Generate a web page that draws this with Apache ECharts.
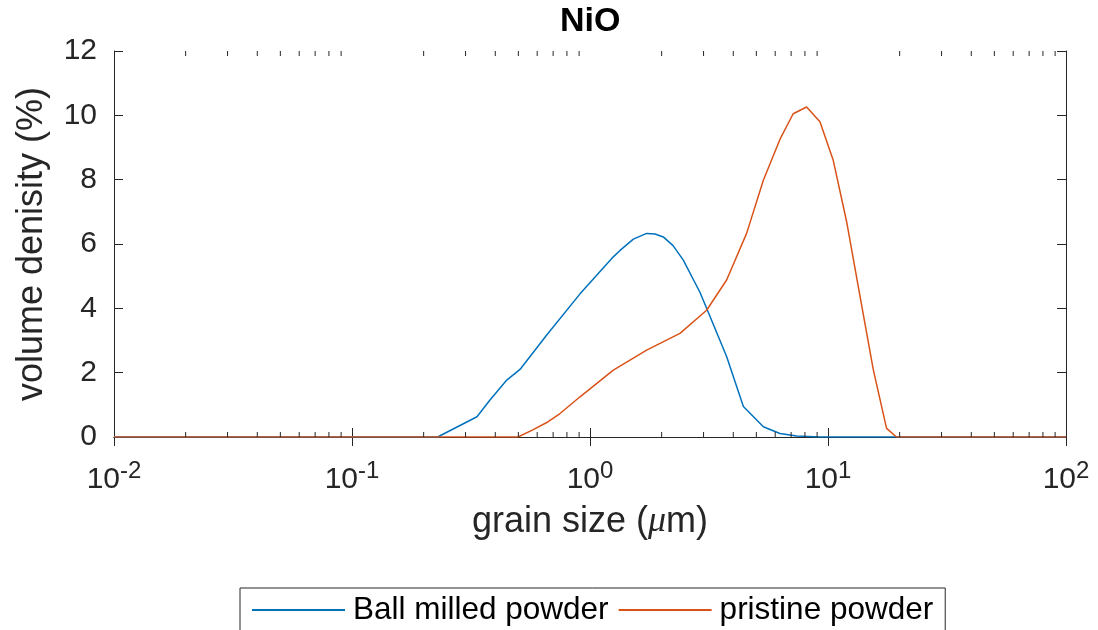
<!DOCTYPE html>
<html>
<head>
    <meta charset="utf-8" />
    <title>NiO</title>
    <script type="text/javascript" src="https://cdn.jsdelivr.net/npm/echarts@6/dist/echarts.min.js"></script>
    <style>
        html, body { margin: 0; padding: 0; background: #fff; }
        #con1 { width: 1098px; height: 630px; }
    </style>
</head>
<body>
    <div id="con1"></div>
    <script type="text/javascript">
        // grain size (um) and volume density (%)
        var ballSize = [0.01, 0.1, 0.229, 0.335, 0.38, 0.447, 0.508, 0.658, 0.908, 1.253, 1.337, 1.521, 1.73, 1.875, 2.032, 2.234, 2.466, 2.897, 3.09, 3.75, 4.41, 5.35, 6.28, 7.38, 9.25, 20, 100];
        var ballDens = [0, 0, 0, 0.63, 1.15, 1.77, 2.1, 3.17, 4.45, 5.6, 5.8, 6.15, 6.33, 6.31, 6.22, 5.95, 5.5, 4.5, 4.0, 2.5, 0.95, 0.32, 0.11, 0.03, 0, 0, 0];
        var pristSize = [0.01, 0.1, 0.498, 0.575, 0.658, 0.748, 0.908, 1.253, 1.73, 2.388, 3.09, 3.75, 4.55, 5.35, 6.28, 7.14, 8.13, 9.25, 10.52, 11.97, 13.61, 15.49, 17.62, 19.41, 100];
        var pristDens = [0, 0, 0, 0.22, 0.45, 0.73, 1.25, 2.08, 2.7, 3.22, 3.94, 4.88, 6.33, 7.98, 9.25, 10.05, 10.26, 9.8, 8.6, 6.7, 4.4, 2.1, 0.27, 0, 0];
        var seriesNames = ["Ball milled powder", "pristine powder"];
        // minor ticks of the log axis: 2..9 in each decade
        var decades = [0.01, 0.1, 1, 10];
        var minorSteps = [2, 3, 4, 5, 6, 7, 8, 9];

        var minorTicks = [];
        decades.forEach(function (d) {
            minorSteps.forEach(function (k) { minorTicks.push([k * d, 0]); });
        });

        var axisCol = '#262626';
        var font = 'Liberation Sans, Arial, sans-serif';

        var dom1 = document.getElementById("con1");
        var myChart1 = echarts.init(dom1, null, { renderer: 'canvas' });

        var option1 = {
            backgroundColor: '#fff',
            animation: false,
            textStyle: { fontFamily: font },
            title: {
                text: 'NiO',
                left: 560,
                top: 5,
                padding: 0,
                textStyle: { fontSize: 34, fontWeight: 'bold', color: '#000', fontFamily: font }
            },
            grid: {
                left: 114,
                right: 32,
                top: 51,
                bottom: 193,
                containLabel: false,
                outerBoundsMode: 'none'
            },
            legend: {
                data: seriesNames,
                left: 240,
                top: 588,
                padding: [6, 12, 30, 12],
                itemGap: 10,
                itemWidth: 93,
                itemHeight: 2,
                icon: 'rect',
                borderColor: axisCol,
                borderWidth: 1,
                textStyle: { fontSize: 31.5, color: '#000', fontFamily: font, padding: [0, 0, 0, 3] }
            },
            xAxis: [
                {
                    type: 'log',
                    logBase: 10,
                    min: 0.01,
                    max: 100,
                    position: 'bottom',
                    name: 'grain size ({i|\u03bc}m)',
                    nameLocation: 'middle',
                    nameGap: 67,
                    nameTextStyle: {
                        fontSize: 36, color: axisCol, fontFamily: font,
                        rich: { i: { fontSize: 36, fontStyle: 'italic', color: axisCol, fontFamily: 'Liberation Serif, serif' } }
                    },
                    axisLine: { lineStyle: { color: axisCol, width: 1 } },
                    axisTick: { inside: true, length: 9, lineStyle: { color: axisCol } },
                    splitLine: { show: false },
                    axisLabel: {
                        margin: 22,
                        color: axisCol,
                        formatter: function (v) {
                            return '{b|10}{s|' + Math.round(Math.log10(v)) + '}';
                        },
                        rich: {
                            b: { fontSize: 30, color: axisCol, fontFamily: font, lineHeight: 36, verticalAlign: 'bottom' },
                            s: { fontSize: 24, color: axisCol, fontFamily: font, lineHeight: 22, verticalAlign: 'top' }
                        }
                    }
                },
                {
                    type: 'log',
                    logBase: 10,
                    min: 0.01,
                    max: 100,
                    position: 'top',
                    axisLine: { lineStyle: { color: axisCol, width: 1 } },
                    axisTick: { inside: true, length: 9, lineStyle: { color: axisCol } },
                    axisLabel: { show: false },
                    splitLine: { show: false }
                }
            ],
            yAxis: [
                {
                    type: 'value',
                    min: 0,
                    max: 12,
                    interval: 2,
                    position: 'left',
                    name: 'volume denisity (%)',
                    nameLocation: 'middle',
                    nameGap: 64,
                    nameTextStyle: { fontSize: 36, color: axisCol, fontFamily: font },
                    axisLine: { show: true, lineStyle: { color: axisCol, width: 1 } },
                    axisTick: { show: true, inside: true, length: 9, lineStyle: { color: axisCol } },
                    axisLabel: { margin: 17, fontSize: 30, color: axisCol, fontFamily: font },
                    splitLine: { show: false }
                },
                {
                    type: 'value',
                    min: 0,
                    max: 12,
                    interval: 2,
                    position: 'right',
                    axisLine: { show: true, lineStyle: { color: axisCol, width: 1 } },
                    axisTick: { show: true, inside: true, length: 9, lineStyle: { color: axisCol } },
                    axisLabel: { show: false },
                    splitLine: { show: false }
                }
            ],
            series: [
                {
                    name: seriesNames[0],
                    type: 'line',
                    symbol: 'none',
                    smooth: false,
                    z: 3,
                    data: ballSize.map(function (x, i) { return [x, ballDens[i]]; }),
                    lineStyle: { color: '#0072BD', width: 1.5 },
                    itemStyle: { color: '#0072BD' }
                },
                {
                    name: seriesNames[1],
                    type: 'line',
                    symbol: 'none',
                    smooth: false,
                    z: 4,
                    data: pristSize.map(function (x, i) { return [x, pristDens[i]]; }),
                    lineStyle: { color: '#D95319', width: 1.5 },
                    itemStyle: { color: '#D95319' }
                },
                {
                    // minor ticks on bottom and top edges
                    type: 'custom',
                    silent: true,
                    z: 5,
                    data: minorTicks,
                    renderItem: function (params, api) {
                        var p0 = api.coord([api.value(0), 0]);
                        var p1 = api.coord([api.value(0), 12]);
                        return {
                            type: 'group',
                            children: [
                                { type: 'line', shape: { x1: p0[0], y1: p0[1], x2: p0[0], y2: p0[1] - 5 }, style: { stroke: axisCol, lineWidth: 1 } },
                                { type: 'line', shape: { x1: p1[0], y1: p1[1], x2: p1[0], y2: p1[1] + 5 }, style: { stroke: axisCol, lineWidth: 1 } }
                            ]
                        };
                    }
                }
            ]
        };
        option1 && myChart1.setOption(option1);
    </script>
</body>
</html>
